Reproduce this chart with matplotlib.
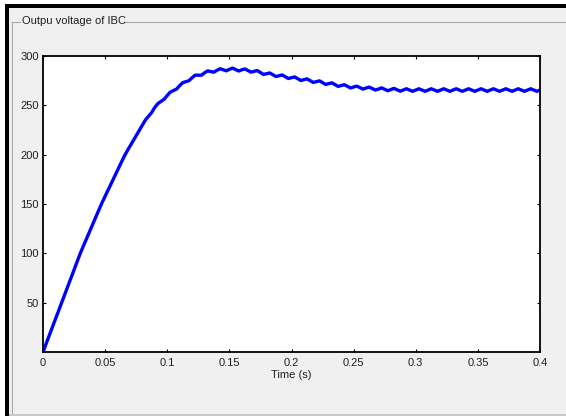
import matplotlib
matplotlib.use("Agg")
import matplotlib.pyplot as plt
from matplotlib.patches import Rectangle
from matplotlib.lines import Line2D

# IBC output voltage, one sample every 2.5 ms
t_step = 0.0025
voltage = [
    # rise, 0 .. 0.12 s
    0.0, 8.3, 16.7, 25.0, 33.3, 41.7, 50.0, 58.3, 66.7, 75.0,
    83.3, 91.7, 100.0, 107.4, 114.7, 122.1, 129.4, 136.8, 144.1, 151.3,
    157.9, 164.5, 171.1, 177.6, 184.2, 190.8, 197.4, 203.2, 208.6, 213.9,
    219.3, 224.6, 230.0, 235.3, 239.0, 242.7, 248.0, 251.8, 254.0, 256.2,
    260.0, 263.5, 265.0, 266.5, 270.0, 273.0, 274.0, 275.0, 278.0,
    # overshoot and settling, 0.1225 .. 0.29 s
    280.6, 280.5, 280.5, 283.0, 284.9, 284.3, 283.6, 285.5, 287.1, 286.0,
    285.0, 286.5, 287.7, 286.3, 284.8, 286.0, 286.9, 285.3, 283.6, 284.5,
    285.2, 283.3, 281.3, 282.0, 282.8, 281.0, 279.2, 280.0, 280.8, 279.0,
    277.2, 278.0, 278.8, 277.0, 275.2, 276.0, 276.8, 275.0, 273.2, 274.0,
    274.8, 273.0, 271.2, 272.0, 272.8, 271.0, 269.2, 270.0, 270.9, 269.3,
    267.6, 268.5, 269.5, 268.0, 266.5, 267.5, 268.5, 267.0, 265.5, 266.5,
    267.7, 266.3, 264.8, 266.0, 267.2, 265.8, 264.3, 265.5,
    # steady state, 0.2925 .. 0.4 s
    266.8, 265.5, 264.2, 265.5, 266.8, 265.5, 264.2, 265.5,
    266.8, 265.5, 264.2, 265.5, 266.8, 265.5, 264.2, 265.5,
    266.8, 265.5, 264.2, 265.5, 266.8, 265.5, 264.2, 265.5,
    266.8, 265.5, 264.2, 265.5, 266.8, 265.5, 264.2, 265.5,
    266.8, 265.5, 264.2, 265.5, 266.8, 265.5, 264.2, 265.5,
    266.8, 265.5, 264.2, 265.5,
]
time = [i * t_step for i in range(len(voltage))]

x_ticks = [0, 0.05, 0.1, 0.15, 0.2, 0.25, 0.3, 0.35, 0.4]
x_labels = ["0", "0.05", "0.1", "0.15", "0.2", "0.25", "0.3", "0.35", "0.4"]
y_ticks = [50, 100, 150, 200, 250, 300]

W, H = 566, 416
plt.rcParams["font.family"] = ["Liberation Sans", "DejaVu Sans"]
fig = plt.figure(figsize=(W / 100, H / 100), dpi=100, facecolor="#f0f0f0")


def box(x, y, w, h, color):
    # rectangle in pixel coords, y measured from the top
    fig.add_artist(Rectangle((x / W, 1 - (y + h) / H), w / W, h / H,
                             transform=fig.transFigure, color=color, lw=0))


def hline(x0, x1, y, color):
    fig.add_artist(Line2D([x0 / W, x1 / W], [1 - y / H, 1 - y / H],
                          transform=fig.transFigure, color=color, lw=0.8))


def vline(x, y0, y1, color):
    fig.add_artist(Line2D([x / W, x / W], [1 - y0 / H, 1 - y1 / H],
                          transform=fig.transFigure, color=color, lw=0.8))


# window frame
box(0, 0, W, 4, "white")
box(0, 0, 5, H, "white")
box(5, 4, W - 5, 3.5, "black")
box(5, 4, 4, H - 4, "black")
box(9, 413.5, W - 9, 2.5, "#c8c8c8")

# group box
hline(12, 20, 21.5, "#a8a8a8")
hline(124, W, 21.5, "#a8a8a8")
vline(11.5, 21.5, 413, "#a8a8a8")
fig.text(22 / W, 1 - 21.5 / H, "Outpu voltage of IBC", fontsize=8,
         va="center", ha="left", color="#202020")

ax = fig.add_axes([43 / W, 1 - 352 / H, 497 / W, 296 / H])
ax.plot(time, voltage, color="#0000ff", lw=2.4, solid_joinstyle="round")
ax.set_xlim(0, 0.4)
ax.set_ylim(0, 300)
ax.set_xticks(x_ticks)
ax.set_xticklabels(x_labels)
ax.set_yticks(y_ticks)
ax.tick_params(direction="in", length=2.5, width=0.8, labelsize=8,
               top=True, right=True, colors="black", labelcolor="#202020")
ax.tick_params(axis="x", pad=4)
ax.tick_params(axis="y", pad=3)
for s in ax.spines.values():
    s.set_linewidth(1.3)
ax.set_xlabel("Time (s)", fontsize=8, labelpad=1.5, color="#202020")

fig.savefig("out.png", dpi=100, facecolor=fig.get_facecolor())
